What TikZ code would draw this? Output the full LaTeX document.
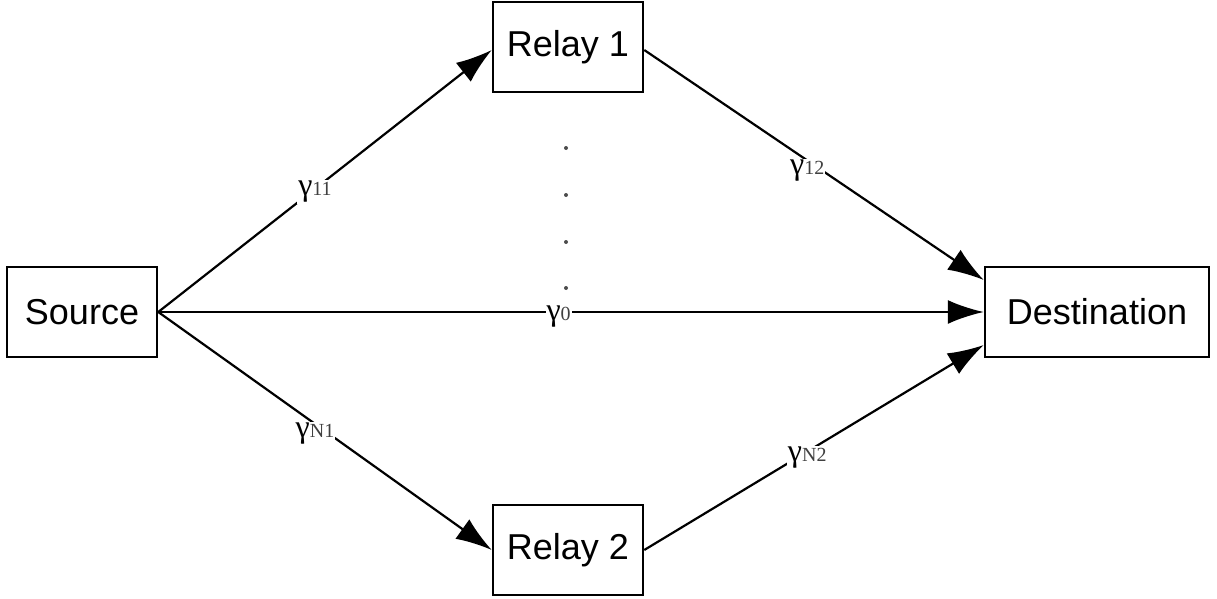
\documentclass[tikz,border=0pt]{standalone}
\usepackage{fontspec}
\setmainfont{Liberation Sans}
\newfontfamily\serifg{Liberation Serif}
\usetikzlibrary{arrows.meta}
\newcommand{\gsub}[1]{{\serifg\fontsize{32}{34}\selectfont γ}{\serifg\fontsize{20}{22}\selectfont\color{black!75}#1}}
\begin{document}
\begin{tikzpicture}[x=1pt,y=-1pt,
  box/.style={draw,line width=2.5pt,minimum width=150pt,minimum height=90pt,inner sep=0pt,font=\fontsize{36}{40}\selectfont},
  conn/.style={line width=2.2pt,-{Latex[length=36pt,width=24pt]}},
  lbl/.style={fill=white,inner sep=1pt},
  dot/.style={circle,fill=black!70,inner sep=0pt,minimum size=4pt}]
\useasboundingbox (0,0) rectangle (1217,599);
\node[box] (src) at (82,312) {Source};
\node[box] (r1) at (568,47) {Relay 1};
\node[box] (r2) at (568,550) {Relay 2};
\node[box,minimum width=224pt] (dst) at (1097,312) {Destination};
\coordinate (srcE) at (src.east);
\draw[conn] (srcE) -- node[lbl,pos=0.47,yshift=-3pt] {\gsub{11}} ([yshift=-3pt]r1.west);
\draw[conn] (srcE) -- node[lbl,pos=0.485,yshift=-5pt] {\gsub{0}} (dst.west);
\draw[conn] (srcE) -- node[lbl,pos=0.47,yshift=-10pt] {\gsub{N1}} (r2.west);
\draw[conn] ([yshift=-3pt]r1.east) -- node[lbl,pos=0.48,yshift=-10pt] {\gsub{12}} ([yshift=32pt]dst.west);
\draw[conn] (r2.east) -- node[lbl,pos=0.48,yshift=-6pt] {\gsub{N2}} ([yshift=-33pt]dst.west);
\node[dot] (d1) at (566,148) {};
\node[dot] (d2) at (566,195) {};
\node[dot] (d3) at (566,242) {};
\node[dot] (d4) at (566,288) {};
\end{tikzpicture}
\end{document}
